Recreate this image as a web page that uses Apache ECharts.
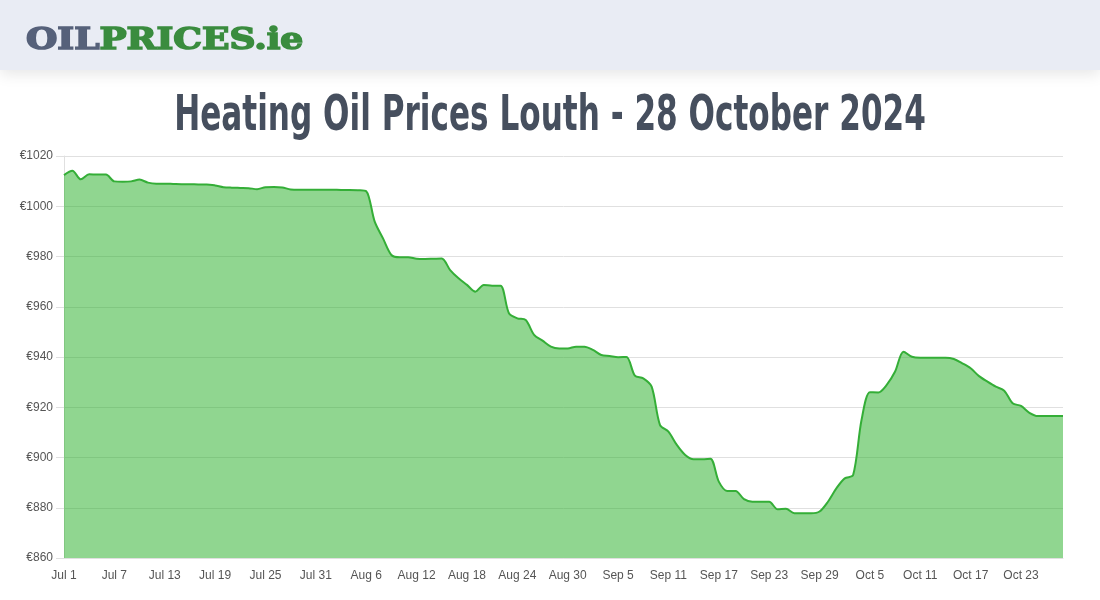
<!DOCTYPE html>
<html>
<head>
<meta charset="utf-8">
<script src="https://cdn.jsdelivr.net/npm/echarts@6/dist/echarts.min.js"></script>
<style>
html,body{margin:0;padding:0;background:#fff;}
#chart{width:1100px;height:600px;}
</style>
</head>
<body>
<div id="chart"></div>
<script>
// Month names and lengths for the category axis (Jul 1 – Oct 28, 2024)
const months = [['Jul', 31], ['Aug', 31], ['Sep', 30], ['Oct', 28]];
const dates = [];
months.forEach(([m, n]) => { for (let d = 1; d <= n; d++) dates.push(m + ' ' + d); });

// Price per day (€, 1000 litres)
const prices = [
  1012.4, 1014.1, 1010.7, 1012.7, 1012.6, 1012.6, 1009.9, 1009.8, 1009.9, 1010.6,
  1009.4, 1009.0, 1009.0, 1008.9, 1008.8, 1008.8, 1008.7, 1008.7, 1008.3, 1007.6,
  1007.4, 1007.3, 1007.2, 1006.8, 1007.6, 1007.7, 1007.5, 1006.7, 1006.6, 1006.6,
  1006.6, 1006.6, 1006.6, 1006.5, 1006.5, 1006.4, 1006.0, 994.0, 987.2, 980.6,
  979.7, 979.7, 979.1, 979.0, 979.1, 979.2, 974.6, 971.3, 968.7, 966.0,
  968.7, 968.4, 968.4, 957.4, 955.4, 954.7, 948.8, 946.5, 944.1, 943.4,
  943.4, 944.1, 944.1, 942.8, 940.8, 940.4, 939.9, 940.0, 932.6, 931.5,
  928.2, 912.9, 910.3, 905.0, 901.0, 899.3, 899.3, 899.5, 890.4, 886.7,
  886.7, 883.4, 882.4, 882.4, 882.4, 879.4, 879.6, 877.8, 877.8, 877.8,
  878.5, 882.4, 887.7, 891.7, 893.0, 914.9, 926.0, 925.9, 928.9, 934.2,
  942.1, 940.1, 939.7, 939.7, 939.7, 939.7, 939.2, 937.5, 935.5, 932.4,
  930.2, 928.2, 926.6, 921.6, 920.5, 917.8, 916.5, 916.5, 916.5, 916.5
];

const titleText = 'Heating Oil Prices Louth - 28 October 2024';
const logoParts = ['OIL', 'PRICES.ie'];
const yMin = 860, yMax = 1020, yStep = 20;

const chart = echarts.init(document.getElementById('chart'), null, { renderer: 'canvas' });
chart.setOption({
  animation: false,
  backgroundColor: '#ffffff',
  graphic: [
    {
      type: 'rect', left: 0, top: 0, z: 0,
      shape: { width: 1100, height: 70 },
      style: { fill: '#e9ecf4', shadowBlur: 14, shadowColor: 'rgba(0,0,0,0.10)', shadowOffsetY: 4 }
    },
    {
      type: 'text', x: 26, y: 41, z: 1, scaleX: 1.2,
      style: {
        text: '{a|' + logoParts[0] + '}{b|' + logoParts[1] + '}',
        verticalAlign: 'middle',
        rich: {
          a: { fontFamily: 'DejaVu Serif', fontWeight: 'bold', fontSize: 30, fill: '#56617a',
               stroke: '#56617a', lineWidth: 1.6 },
          b: { fontFamily: 'DejaVu Serif', fontWeight: 'bold', fontSize: 30, fill: '#3a8c3e',
               stroke: '#3a8c3e', lineWidth: 1.6 }
        }
      }
    },
    {
      type: 'text', x: 550, y: 117, z: 1, scaleX: 0.635, originX: 0,
      style: {
        text: titleText,
        fontFamily: "'DejaVu Sans', sans-serif",
        fontWeight: 'bold', fontSize: 49, fill: '#464f5e',
        align: 'center', verticalAlign: 'middle'
      }
    }
  ],
  grid: { left: 64, right: 37, top: 156, bottom: 42, containLabel: false },
  xAxis: {
    type: 'category',
    data: dates,
    boundaryGap: false,
    axisLine: { show: true, lineStyle: { color: '#e0e0e0' } },
    axisTick: { show: false },
    axisLabel: {
      interval: 5, margin: 12, color: '#555', fontSize: 12,
      fontFamily: "'Liberation Sans', Arial, sans-serif"
    },
    splitLine: { show: false }
  },
  yAxis: {
    type: 'value',
    min: yMin, max: yMax, interval: yStep,
    axisLine: { show: true, lineStyle: { color: '#e0e0e0' } },
    axisTick: { show: true, length: 8, lineStyle: { color: '#e0e0e0' } },
    axisLabel: {
      margin: 11, color: '#555', fontSize: 12,
      fontFamily: "'Liberation Sans', Arial, sans-serif",
      formatter: v => '€' + v
    },
    splitLine: { show: true, lineStyle: { color: '#e0e0e0', width: 1 } }
  },
  series: [{
    type: 'line',
    data: prices,
    smooth: 0.3,
    symbol: 'none',
    lineStyle: { color: '#34ae37', width: 2 },
    itemStyle: { color: '#34ae37' },
    areaStyle: { color: 'rgba(33,173,33,0.5)', opacity: 1, origin: 'start' },
    z: 3
  }]
});
</script>
</body>
</html>
